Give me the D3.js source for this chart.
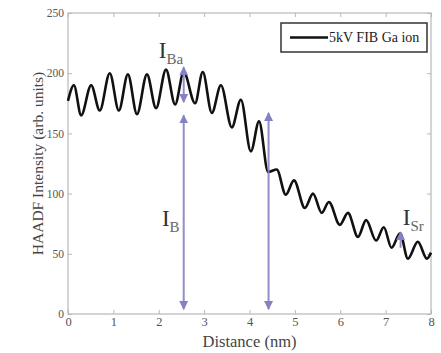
<!DOCTYPE html>
<html>
<head>
<meta charset="utf-8">
<script src="https://cdn.jsdelivr.net/npm/d3@7"></script>
<style>
  body { margin: 0; background: #fff; }
  svg { display: block; }
</style>
</head>
<body>
<svg width="441" height="353"></svg>
<script>

// Profile (peaks and troughs)
const distance = [0.0, 0.13, 0.29, 0.51, 0.70, 0.92, 1.12, 1.32, 1.52, 1.74, 1.94, 2.16, 2.36,
  2.55, 2.80, 2.97, 3.17, 3.37, 3.61, 3.81, 4.03, 4.21, 4.41, 4.60, 4.80, 4.98, 5.22, 5.40,
  5.59, 5.75, 5.99, 6.17, 6.39, 6.57, 6.79, 6.96, 7.13, 7.32, 7.49, 7.71, 7.91, 8.0];
const intensity = [177, 190, 165, 190, 169, 200, 169, 199, 166, 199, 171, 203, 174,
  201, 175, 201, 167, 190, 155, 178, 135, 160, 118, 120, 99, 111, 88, 100,
  84, 93, 74, 84, 64, 78, 61, 72, 55, 67, 46, 60, 46, 51];

const xTicks = [0, 1, 2, 3, 4, 5, 6, 7, 8];
const yTicks = [0, 50, 100, 150, 200, 250];

// Arrows: position and the two ends
const arrowX = [2.55, 2.55, 4.42, 7.33];
const arrowFrom = [176, 165, 167, 55];
const arrowTo = [205, 4, 4, 68];

const labelMain = ["I", "I", "I"];
const labelSub = ["Ba", "B", "Sr"];
const labelX = [2.0, 2.07, 7.38];
const labelY = [213, 73, 74];

const seriesName = "5kV FIB Ga ion";

const svg = d3.select("svg");
const margin = { top: 13, right: 10, bottom: 39, left: 68 };
const width = 441 - margin.left - margin.right;
const height = 353 - margin.top - margin.bottom;

const x = d3.scaleLinear().domain([0, 8]).range([margin.left, margin.left + width]);
const y = d3.scaleLinear().domain([0, 250]).range([margin.top + height, margin.top]);

const serif = "'Liberation Serif', 'DejaVu Serif', serif";
const axisGray = "#b8b8b8";

// Frame
svg.append("rect")
    .attr("x", x(0)).attr("y", y(250))
    .attr("width", width).attr("height", height)
    .attr("fill", "none")
    .attr("stroke", axisGray)
    .attr("stroke-width", 1.2);

function styleAxis(g) {
  g.select(".domain").remove();
  g.selectAll(".tick line").attr("stroke", axisGray);
  g.selectAll(".tick text")
      .attr("font-family", serif)
      .attr("fill", "#555");
}

svg.append("g")
    .attr("transform", "translate(0," + y(0) + ")")
    .call(d3.axisBottom(x).tickValues(xTicks).tickSize(-4).tickPadding(3).tickFormat(d3.format("d")))
    .call(styleAxis)
    .selectAll(".tick text").attr("font-size", 12.5);

svg.append("g")
    .attr("transform", "translate(0," + y(250) + ")")
    .call(d3.axisTop(x).tickValues(xTicks).tickSize(-4).tickFormat(""))
    .call(styleAxis);

svg.append("g")
    .attr("transform", "translate(" + x(0) + ",0)")
    .call(d3.axisLeft(y).tickValues(yTicks).tickSize(-4).tickPadding(4).tickFormat(d3.format("d")))
    .call(styleAxis)
    .selectAll(".tick text").attr("font-size", 11.5);

svg.append("g")
    .attr("transform", "translate(" + x(8) + ",0)")
    .call(d3.axisRight(y).tickValues(yTicks).tickSize(-4).tickFormat(""))
    .call(styleAxis);

// Axis titles
svg.append("text")
    .attr("x", x(4)).attr("y", 347)
    .attr("text-anchor", "middle")
    .attr("font-family", serif).attr("font-size", 16.5)
    .attr("fill", "#444")
    .text("Distance (nm)");

svg.append("text")
    .attr("transform", "translate(43," + y(125) + ")rotate(-90)")
    .attr("text-anchor", "middle")
    .attr("font-family", serif).attr("font-size", 15.5)
    .attr("fill", "#444")
    .text("HAADF Intensity (arb. units)");

// Arrow markers
const arrowColor = "#8582c4";
const defs = svg.append("defs");
defs.append("marker")
    .attr("id", "head")
    .attr("viewBox", "0 0 10 10")
    .attr("refX", 9).attr("refY", 5)
    .attr("markerWidth", 4.5).attr("markerHeight", 5.5)
    .attr("orient", "auto-start-reverse")
    .attr("markerUnits", "strokeWidth")
  .append("path")
    .attr("d", "M0,0L10,5L0,10Z")
    .attr("fill", arrowColor);

// Profile line
const line = d3.line()
    .x((d, i) => x(distance[i]))
    .y(d => y(d))
    .curve(d3.curveMonotoneX);

svg.append("path")
    .datum(intensity)
    .attr("fill", "none")
    .attr("stroke", "#111")
    .attr("stroke-width", 2.6)
    .attr("stroke-linejoin", "round")
    .attr("d", line);

svg.selectAll("line.arrow")
    .data(arrowX).enter()
    .append("line")
    .attr("class", "arrow")
    .attr("x1", d => x(d)).attr("x2", d => x(d))
    .attr("y1", (d, i) => y(arrowFrom[i]))
    .attr("y2", (d, i) => y(arrowTo[i]))
    .attr("stroke", arrowColor)
    .attr("stroke-opacity", 0.9)
    .attr("stroke-width", 2)
    .attr("marker-start", (d, i) => i === 3 ? null : "url(#head)")
    .attr("marker-end", "url(#head)");

// I labels with subscripts
labelMain.forEach(function (m, i) {
  const t = svg.append("text")
      .attr("x", x(labelX[i])).attr("y", y(labelY[i]))
      .attr("font-family", serif)
      .attr("fill", "#333");
  t.append("tspan").attr("font-size", 23).text(m);
  t.append("tspan").attr("font-size", 15).attr("dy", 6).attr("fill", "#666").text(labelSub[i]);
});

// Legend
svg.append("rect")
    .attr("x", 281).attr("y", 23)
    .attr("width", 146).attr("height", 29)
    .attr("fill", "#fff")
    .attr("stroke", "#333")
    .attr("stroke-width", 1.5);
svg.append("line")
    .attr("x1", 290).attr("x2", 328)
    .attr("y1", 37.5).attr("y2", 37.5)
    .attr("stroke", "#111").attr("stroke-width", 2.6);
svg.append("text")
    .attr("x", 329).attr("y", 42)
    .attr("font-family", serif).attr("font-size", 14)
    .attr("fill", "#222")
    .text(seriesName);

</script>
</body>
</html>
